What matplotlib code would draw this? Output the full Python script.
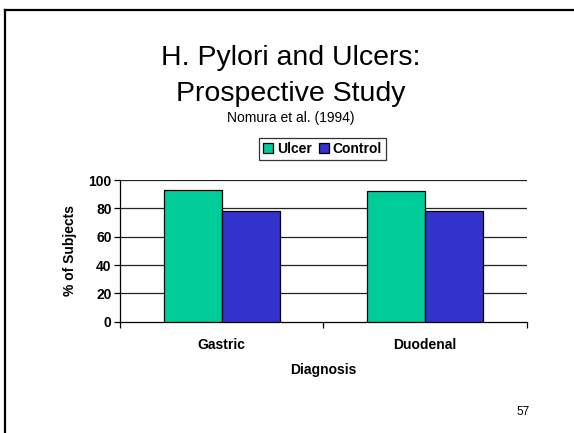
"""H. Pylori and ulcers slide chart."""

import matplotlib
matplotlib.use("Agg")
import matplotlib.pyplot as plt
import numpy as np

plt.rcParams["font.family"] = ["Liberation Sans", "DejaVu Sans"]

CATEGORIES = ["Gastric", "Duodenal"]
ULCER = [93, 92]
CONTROL = [78, 78]
Y_TICKS = [0, 20, 40, 60, 80, 100]

ULCER_COLOR = "#00CC99"
CONTROL_COLOR = "#3333CC"


def main() -> None:
    fig = plt.figure(figsize=(5.74, 4.33), dpi=100)

    # slide frame (top and left edges visible)
    fig.add_artist(plt.Line2D([5 / 574, 5 / 574], [0, 1 - 10 / 433], color="black", lw=1.6))
    fig.add_artist(plt.Line2D([5 / 574, 1], [1 - 10 / 433, 1 - 10 / 433], color="black", lw=1.6))

    fig.text(291 / 574, 1 - 58 / 433, "H. Pylori and Ulcers:", ha="center", va="center", fontsize=20.5)
    fig.text(291 / 574, 1 - 94 / 433, "Prospective Study", ha="center", va="center", fontsize=20.5)
    fig.text(291 / 574, 1 - 118 / 433, "Nomura et al. (1994)", ha="center", va="center", fontsize=10)

    ax = fig.add_axes([120 / 574, 111.3 / 433, 407 / 574, 141.7 / 433])
    x = np.arange(len(CATEGORIES))
    width = 1 / 3.5
    ax.bar(x - width / 2, ULCER, width, color=ULCER_COLOR, edgecolor="black", linewidth=0.9, label="Ulcer", zorder=3)
    ax.bar(x + width / 2, CONTROL, width, color=CONTROL_COLOR, edgecolor="black", linewidth=0.9, label="Control", zorder=3)

    ax.set_xlim(-0.5, len(CATEGORIES) - 0.5)
    ax.set_ylim(0, 100)
    ax.set_yticks(Y_TICKS)
    ax.set_yticklabels([str(t) for t in Y_TICKS], fontsize=10, fontweight="bold")
    ax.set_xticks(x)
    ax.set_xticklabels(CATEGORIES, fontsize=10, fontweight="bold")
    ax.set_xticks(np.arange(len(CATEGORIES) + 1) - 0.5, minor=True)
    ax.tick_params(axis="x", which="major", length=0, pad=12)
    ax.tick_params(axis="x", which="minor", length=4, direction="out", width=0.9)
    ax.tick_params(axis="y", length=4, direction="out", width=0.9, pad=2)
    for y in Y_TICKS[1:]:
        ax.axhline(y, color="#222222", lw=0.9, zorder=1)
    for side in ("top", "right"):
        ax.spines[side].set_visible(False)
    for side in ("left", "bottom"):
        ax.spines[side].set_linewidth(0.9)
    ax.set_xlabel("Diagnosis", fontsize=10, fontweight="bold", labelpad=8)
    ax.set_ylabel("% of Subjects", fontsize=10, fontweight="bold", labelpad=8)

    leg = fig.legend(loc="center", bbox_to_anchor=(322.5 / 574, 1 - 149 / 433), ncol=2, frameon=True,
                     fancybox=False, edgecolor="black", prop={"weight": "bold", "size": 10},
                     handlelength=0.7, handleheight=0.7, handletextpad=0.3, columnspacing=0.5,
                     borderpad=0.3, borderaxespad=0)
    leg.get_frame().set_linewidth(0.9)

    fig.text(523 / 574, 1 - 412 / 433, "57", ha="center", va="center", fontsize=8.5)

    fig.savefig("out.png", dpi=100)
    plt.close(fig)


if __name__ == "__main__":
    main()
